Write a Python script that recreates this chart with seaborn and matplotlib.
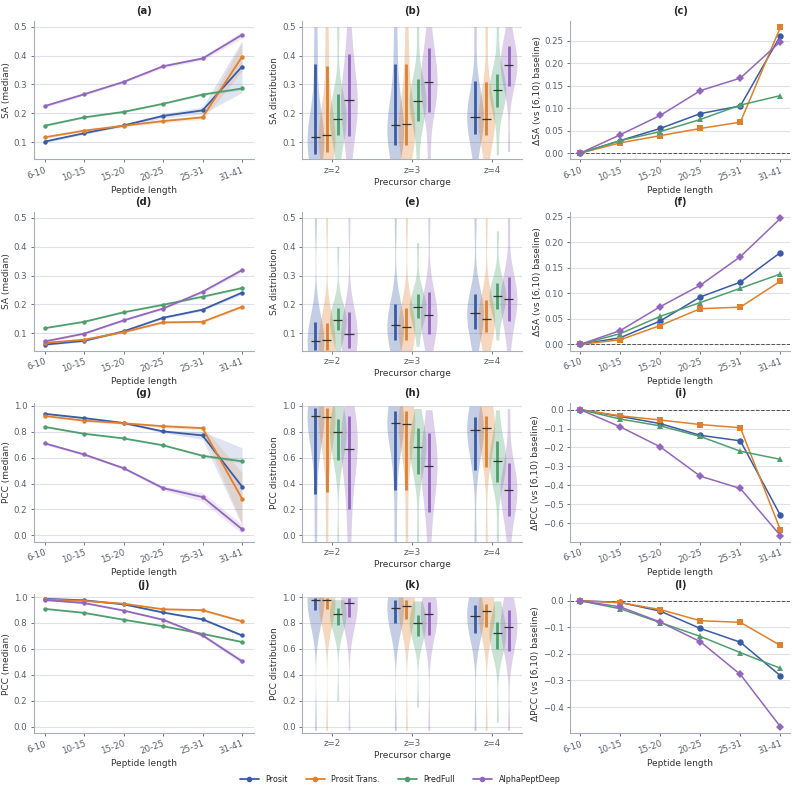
import numpy as np
import pandas as pd
import seaborn as sns
import matplotlib.pyplot as plt
from matplotlib.lines import Line2D

sns.set_theme(style="ticks")
plt.rcParams["font.family"] = ["DejaVu Sans"]

models = ["Prosit", "Prosit Trans.", "PredFull", "AlphaPeptDeep"]
colors = ["#3a5ba6", "#e0802c", "#4f9f6e", "#9366bd"]
lengths = ["6-10", "10-15", "15-20", "20-25", "25-31", "31-41"]
charges = ["z=2", "z=3", "z=4"]

# ---- column 1: median per length bin (+ CI half width)
sa_med_a = {
    "Prosit": [0.102, 0.131, 0.158, 0.191, 0.210, 0.362],
    "Prosit Trans.": [0.117, 0.140, 0.157, 0.173, 0.186, 0.396],
    "PredFull": [0.157, 0.186, 0.205, 0.233, 0.265, 0.286],
    "AlphaPeptDeep": [0.225, 0.266, 0.309, 0.363, 0.390, 0.472],
}
sa_ci_a = {
    "Prosit": [0.004, 0.004, 0.004, 0.008, 0.012, 0.090],
    "Prosit Trans.": [0.004, 0.004, 0.004, 0.006, 0.008, 0.050],
    "PredFull": [0.003, 0.003, 0.003, 0.003, 0.004, 0.005],
    "AlphaPeptDeep": [0.005, 0.004, 0.004, 0.006, 0.006, 0.012],
}
sa_med_d = {
    "Prosit": [0.061, 0.074, 0.107, 0.154, 0.182, 0.241],
    "Prosit Trans.": [0.067, 0.078, 0.104, 0.138, 0.140, 0.192],
    "PredFull": [0.118, 0.140, 0.173, 0.199, 0.227, 0.257],
    "AlphaPeptDeep": [0.072, 0.099, 0.145, 0.186, 0.244, 0.319],
}
sa_ci_d = {
    "Prosit": [0.003, 0.003, 0.003, 0.004, 0.004, 0.006],
    "Prosit Trans.": [0.003, 0.003, 0.003, 0.004, 0.004, 0.006],
    "PredFull": [0.002, 0.002, 0.002, 0.003, 0.003, 0.004],
    "AlphaPeptDeep": [0.003, 0.003, 0.004, 0.004, 0.005, 0.008],
}
pcc_med_g = {
    "Prosit": [0.939, 0.906, 0.868, 0.803, 0.772, 0.377],
    "Prosit Trans.": [0.922, 0.886, 0.866, 0.843, 0.828, 0.284],
    "PredFull": [0.838, 0.785, 0.749, 0.696, 0.615, 0.572],
    "AlphaPeptDeep": [0.711, 0.625, 0.519, 0.365, 0.296, 0.048],
}
pcc_ci_g = {
    "Prosit": [0.008, 0.008, 0.008, 0.010, 0.030, 0.300],
    "Prosit Trans.": [0.008, 0.008, 0.008, 0.012, 0.015, 0.200],
    "PredFull": [0.005, 0.005, 0.005, 0.006, 0.008, 0.012],
    "AlphaPeptDeep": [0.010, 0.010, 0.010, 0.015, 0.035, 0.035],
}
pcc_med_j = {
    "Prosit": [0.987, 0.975, 0.944, 0.881, 0.828, 0.704],
    "Prosit Trans.": [0.982, 0.970, 0.949, 0.906, 0.899, 0.813],
    "PredFull": [0.909, 0.878, 0.825, 0.775, 0.716, 0.653],
    "AlphaPeptDeep": [0.977, 0.954, 0.896, 0.825, 0.704, 0.504],
}
pcc_ci_j = {
    "Prosit": [0.003, 0.003, 0.004, 0.005, 0.006, 0.010],
    "Prosit Trans.": [0.003, 0.003, 0.004, 0.005, 0.006, 0.008],
    "PredFull": [0.003, 0.003, 0.003, 0.004, 0.004, 0.006],
    "AlphaPeptDeep": [0.003, 0.004, 0.005, 0.008, 0.012, 0.020],
}

# ---- column 2: distribution deciles (min, p10 .. p90, max) per charge z=2,3,4
sa_dist_b = {
    "Prosit": [[0.00, 0.058, 0.075, 0.088, 0.102, 0.117, 0.135, 0.160, 0.210, 0.370, 0.50],
               [0.02, 0.090, 0.105, 0.120, 0.140, 0.159, 0.180, 0.210, 0.260, 0.371, 0.50],
               [0.03, 0.129, 0.145, 0.160, 0.175, 0.188, 0.205, 0.225, 0.255, 0.312, 0.50]],
    "Prosit Trans.": [[0.00, 0.065, 0.080, 0.095, 0.110, 0.125, 0.145, 0.170, 0.220, 0.365, 0.50],
                      [0.02, 0.090, 0.108, 0.123, 0.142, 0.162, 0.185, 0.215, 0.265, 0.370, 0.50],
                      [0.03, 0.124, 0.140, 0.155, 0.168, 0.180, 0.195, 0.215, 0.245, 0.307, 0.50]],
    "PredFull": [[0.02, 0.124, 0.145, 0.160, 0.170, 0.182, 0.195, 0.210, 0.235, 0.267, 0.50],
                 [0.04, 0.175, 0.195, 0.212, 0.228, 0.242, 0.256, 0.272, 0.290, 0.318, 0.50],
                 [0.056, 0.223, 0.240, 0.255, 0.268, 0.281, 0.293, 0.305, 0.318, 0.336, 0.50]],
    "AlphaPeptDeep": [[0.03, 0.120, 0.160, 0.195, 0.220, 0.246, 0.270, 0.300, 0.340, 0.404, 0.50],
                      [0.04, 0.203, 0.235, 0.260, 0.285, 0.307, 0.330, 0.355, 0.385, 0.425, 0.50],
                      [0.068, 0.296, 0.320, 0.338, 0.354, 0.369, 0.383, 0.398, 0.414, 0.434, 0.50]],
}
sa_dist_e = {
    "Prosit": [[0.00, 0.042, 0.052, 0.060, 0.067, 0.073, 0.081, 0.092, 0.110, 0.140, 0.50],
               [0.02, 0.076, 0.093, 0.105, 0.117, 0.128, 0.140, 0.153, 0.172, 0.200, 0.50],
               [0.02, 0.114, 0.130, 0.145, 0.157, 0.169, 0.181, 0.195, 0.212, 0.236, 0.50]],
    "Prosit Trans.": [[0.00, 0.042, 0.053, 0.061, 0.069, 0.076, 0.084, 0.095, 0.112, 0.136, 0.50],
                      [0.02, 0.076, 0.090, 0.101, 0.112, 0.122, 0.133, 0.145, 0.162, 0.187, 0.50],
                      [0.02, 0.105, 0.120, 0.132, 0.142, 0.151, 0.161, 0.174, 0.190, 0.215, 0.50]],
    "PredFull": [[0.04, 0.110, 0.122, 0.131, 0.138, 0.145, 0.152, 0.160, 0.172, 0.188, 0.40],
                 [0.055, 0.153, 0.166, 0.176, 0.183, 0.190, 0.197, 0.205, 0.217, 0.236, 0.415],
                 [0.077, 0.185, 0.200, 0.210, 0.219, 0.228, 0.237, 0.246, 0.257, 0.273, 0.455]],
    "AlphaPeptDeep": [[0.00, 0.048, 0.064, 0.076, 0.087, 0.097, 0.108, 0.120, 0.140, 0.174, 0.50],
                      [0.03, 0.098, 0.118, 0.134, 0.148, 0.162, 0.176, 0.192, 0.212, 0.244, 0.50],
                      [0.03, 0.143, 0.165, 0.185, 0.202, 0.218, 0.234, 0.250, 0.270, 0.294, 0.50]],
}
pcc_dist_h = {
    "Prosit": [[-0.10, 0.319, 0.700, 0.830, 0.890, 0.922, 0.940, 0.955, 0.968, 0.980, 1.0],
               [-0.05, 0.349, 0.650, 0.770, 0.830, 0.866, 0.890, 0.910, 0.930, 0.957, 1.0],
               [-0.05, 0.506, 0.650, 0.730, 0.780, 0.815, 0.840, 0.860, 0.885, 0.911, 1.0]],
    "Prosit Trans.": [[-0.10, 0.334, 0.690, 0.820, 0.880, 0.911, 0.932, 0.948, 0.963, 0.980, 1.0],
                      [-0.05, 0.349, 0.640, 0.760, 0.820, 0.858, 0.885, 0.905, 0.928, 0.957, 1.0],
                      [-0.05, 0.527, 0.670, 0.750, 0.800, 0.833, 0.855, 0.875, 0.895, 0.919, 1.0]],
    "PredFull": [[-0.10, 0.580, 0.680, 0.730, 0.770, 0.795, 0.820, 0.840, 0.865, 0.901, 1.0],
                 [-0.05, 0.473, 0.560, 0.620, 0.655, 0.684, 0.710, 0.740, 0.775, 0.828, 0.98],
                 [-0.05, 0.413, 0.470, 0.510, 0.545, 0.575, 0.605, 0.635, 0.670, 0.729, 0.97]],
    "AlphaPeptDeep": [[-0.10, 0.205, 0.400, 0.530, 0.610, 0.668, 0.720, 0.770, 0.830, 0.919, 1.0],
                      [-0.10, 0.177, 0.300, 0.400, 0.470, 0.534, 0.590, 0.640, 0.700, 0.790, 0.97],
                      [-0.10, 0.149, 0.220, 0.270, 0.315, 0.354, 0.390, 0.430, 0.480, 0.562, 0.98]],
}
pcc_dist_k = {
    "Prosit": [[-0.03, 0.904, 0.940, 0.960, 0.972, 0.980, 0.984, 0.987, 0.990, 0.992, 1.0],
               [-0.03, 0.797, 0.850, 0.880, 0.903, 0.919, 0.932, 0.945, 0.958, 0.975, 1.0],
               [-0.03, 0.719, 0.780, 0.815, 0.838, 0.856, 0.872, 0.888, 0.908, 0.937, 1.0]],
    "Prosit Trans.": [[-0.03, 0.906, 0.935, 0.955, 0.967, 0.975, 0.980, 0.985, 0.988, 0.992, 1.0],
                      [-0.03, 0.828, 0.870, 0.895, 0.914, 0.929, 0.940, 0.952, 0.963, 0.975, 1.0],
                      [-0.03, 0.767, 0.820, 0.850, 0.872, 0.889, 0.903, 0.917, 0.930, 0.949, 1.0]],
    "PredFull": [[0.20, 0.782, 0.820, 0.840, 0.856, 0.868, 0.878, 0.890, 0.902, 0.919, 0.98],
                 [0.15, 0.696, 0.735, 0.762, 0.783, 0.800, 0.815, 0.830, 0.845, 0.863, 0.97],
                 [0.035, 0.597, 0.640, 0.670, 0.697, 0.719, 0.740, 0.760, 0.782, 0.810, 0.97]],
    "AlphaPeptDeep": [[-0.03, 0.848, 0.900, 0.925, 0.943, 0.957, 0.967, 0.975, 0.983, 0.992, 1.0],
                      [-0.03, 0.706, 0.780, 0.820, 0.848, 0.871, 0.890, 0.908, 0.930, 0.960, 1.0],
                      [-0.03, 0.585, 0.660, 0.710, 0.745, 0.772, 0.800, 0.825, 0.860, 0.904, 1.0]],
}

# ---- column 3: change vs the 6-10 bin
sa_delta_c = {
    "Prosit": [0.0, 0.028, 0.055, 0.088, 0.105, 0.261],
    "Prosit Trans.": [0.0, 0.023, 0.039, 0.055, 0.069, 0.280],
    "PredFull": [0.0, 0.028, 0.048, 0.075, 0.107, 0.128],
    "AlphaPeptDeep": [0.0, 0.041, 0.084, 0.139, 0.167, 0.248],
}
sa_delta_f = {
    "Prosit": [0.0, 0.013, 0.046, 0.093, 0.122, 0.180],
    "Prosit Trans.": [0.0, 0.009, 0.037, 0.070, 0.073, 0.124],
    "PredFull": [0.0, 0.021, 0.055, 0.082, 0.110, 0.138],
    "AlphaPeptDeep": [0.0, 0.027, 0.074, 0.116, 0.172, 0.247],
}
pcc_delta_i = {
    "Prosit": [0.0, -0.036, -0.074, -0.136, -0.165, -0.559],
    "Prosit Trans.": [0.0, -0.033, -0.055, -0.079, -0.096, -0.636],
    "PredFull": [0.0, -0.050, -0.086, -0.142, -0.220, -0.263],
    "AlphaPeptDeep": [0.0, -0.091, -0.197, -0.352, -0.417, -0.666],
}
pcc_delta_l = {
    "Prosit": [0.0, -0.006, -0.039, -0.104, -0.156, -0.282],
    "Prosit Trans.": [0.0, -0.007, -0.033, -0.075, -0.081, -0.168],
    "PredFull": [0.0, -0.030, -0.082, -0.134, -0.195, -0.254],
    "AlphaPeptDeep": [0.0, -0.023, -0.080, -0.154, -0.277, -0.474],
}

markers = {"Prosit": "o", "Prosit Trans.": "s", "PredFull": "^", "AlphaPeptDeep": "D"}
palette = dict(zip(models, colors))
grid_c = "#dde0e8"
spine_c = "#a8adba"
tick_c = "#5a5f6c"


def long_lines(vals):
    rows = [(m, l, v) for m in models for l, v in zip(lengths, vals[m])]
    return pd.DataFrame(rows, columns=["model", "length", "value"])


def style_ax(ax, title, xlabel, ylabel):
    ax.set_title(title, fontsize=7.2, fontweight="bold", pad=5)
    ax.set_xlabel(xlabel, fontsize=6.5, color="#333333", labelpad=2)
    ax.set_ylabel(ylabel, fontsize=6.5, color="#333333", labelpad=2)
    ax.yaxis.grid(True, color=grid_c, lw=0.8)
    ax.set_axisbelow(True)
    sns.despine(ax=ax)
    for s in ("left", "bottom"):
        ax.spines[s].set_color(spine_c)
        ax.spines[s].set_linewidth(0.8)
    ax.tick_params(labelsize=6.2, colors=tick_c, length=2.5, width=0.6, pad=2)


def rotate_x(ax):
    for lab in ax.get_xticklabels():
        lab.set_rotation(20)
        lab.set_ha("right")
        lab.set_rotation_mode("anchor")


def median_panel(ax, med, ci, title, ylabel, ylim, yticks):
    df = long_lines(med)
    sns.lineplot(data=df, x="length", y="value", hue="model", hue_order=models,
                 palette=palette, marker="o", markersize=3.2, markeredgewidth=0,
                 linewidth=1.3, sort=False, legend=False, ax=ax)
    for m in models:
        lo = np.array(med[m]) - np.array(ci[m])
        hi = np.array(med[m]) + np.array(ci[m])
        ax.fill_between(lengths, lo, hi, color=palette[m], alpha=0.16, lw=0)
    ax.set_ylim(*ylim)
    ax.set_yticks(yticks)
    ax.set_xlim(-0.28, 5.3)
    style_ax(ax, title, "Peptide length", ylabel)
    rotate_x(ax)


def violin_panel(ax, dist, title, ylabel, ylim, yticks):
    rows = [(c, m, v) for m in models for c, vals in zip(charges, dist[m]) for v in vals]
    df = pd.DataFrame(rows, columns=["charge", "model", "value"])
    width = 0.56
    sns.violinplot(data=df, x="charge", y="value", hue="model", order=charges,
                   hue_order=models, palette=palette, inner=None, cut=0,
                   density_norm="width", width=width, linewidth=0, saturation=1,
                   bw_adjust=1.0, legend=False, ax=ax)
    # widen the violin bodies a bit so neighbours touch, as in the source figure
    for coll in ax.collections:
        coll.set_alpha(0.3)
        for path in coll.get_paths():
            v = path.vertices
            cx = 0.5 * (v[:, 0].max() + v[:, 0].min())
            v[:, 0] = cx + (v[:, 0] - cx) * 1.5
    step = width / len(models)
    for j, m in enumerate(models):
        for i, vals in enumerate(dist[m]):
            x = i + (j - 1.5) * step
            ax.vlines(x, vals[1], vals[-2], color=palette[m], lw=2.0, zorder=3)
            ax.hlines(vals[5], x - 0.058, x + 0.058, color="#333333", lw=0.9, zorder=4)
    ax.set_ylim(*ylim)
    ax.set_yticks(yticks)
    ax.set_xlim(-0.38, 2.38)
    style_ax(ax, title, "Precursor charge", ylabel)


def delta_panel(ax, delta, title, ylabel):
    df = long_lines(delta)
    ax.axhline(0, color="#555555", lw=0.7, ls="--", zorder=1)
    sns.lineplot(data=df, x="length", y="value", hue="model", hue_order=models,
                 palette=palette, style="model", markers=markers, dashes=False,
                 markersize=4.6, markeredgewidth=0, linewidth=1.1, sort=False,
                 legend=False, ax=ax)
    for ln in ax.lines:
        if ln.get_marker() == "D":
            ln.set_markersize(3.9)
    style_ax(ax, title, "Peptide length", ylabel)
    rotate_x(ax)


fig, axes = plt.subplots(4, 3, figsize=(8, 7.91), dpi=100,
                         gridspec_kw=dict(left=0.042, right=0.988, top=0.9735,
                                          bottom=0.0733, wspace=0.218, hspace=0.38))

sa_ticks = [0.1, 0.2, 0.3, 0.4, 0.5]
pcc_ticks = [0.0, 0.2, 0.4, 0.6, 0.8, 1.0]

median_panel(axes[0, 0], sa_med_a, sa_ci_a, "(a)", "SA (median)", (0.04, 0.52), sa_ticks)
violin_panel(axes[0, 1], sa_dist_b, "(b)", "SA distribution", (0.04, 0.52), sa_ticks)
delta_panel(axes[0, 2], sa_delta_c, "(c)", "ΔSA (vs [6,10) baseline)")

median_panel(axes[1, 0], sa_med_d, sa_ci_d, "(d)", "SA (median)", (0.04, 0.52), sa_ticks)
violin_panel(axes[1, 1], sa_dist_e, "(e)", "SA distribution", (0.04, 0.52), sa_ticks)
delta_panel(axes[1, 2], sa_delta_f, "(f)", "ΔSA (vs [6,10) baseline)")

median_panel(axes[2, 0], pcc_med_g, pcc_ci_g, "(g)", "PCC (median)", (-0.05, 1.02), pcc_ticks)
violin_panel(axes[2, 1], pcc_dist_h, "(h)", "PCC distribution", (-0.05, 1.02), pcc_ticks)
delta_panel(axes[2, 2], pcc_delta_i, "(i)", "ΔPCC (vs [6,10) baseline)")

median_panel(axes[3, 0], pcc_med_j, pcc_ci_j, "(j)", "PCC (median)", (-0.05, 1.02), pcc_ticks)
violin_panel(axes[3, 1], pcc_dist_k, "(k)", "PCC distribution", (-0.05, 1.02), pcc_ticks)
delta_panel(axes[3, 2], pcc_delta_l, "(l)", "ΔPCC (vs [6,10) baseline)")

handles = [Line2D([], [], color=palette[m], marker="o", markersize=3, lw=1.3) for m in models]
fig.legend(handles, models, loc="lower center", bbox_to_anchor=(0.5, 0.0), ncol=4,
           frameon=False, fontsize=5.8, handlelength=2.4, columnspacing=2.2)

fig.savefig("out.png", dpi=100)
